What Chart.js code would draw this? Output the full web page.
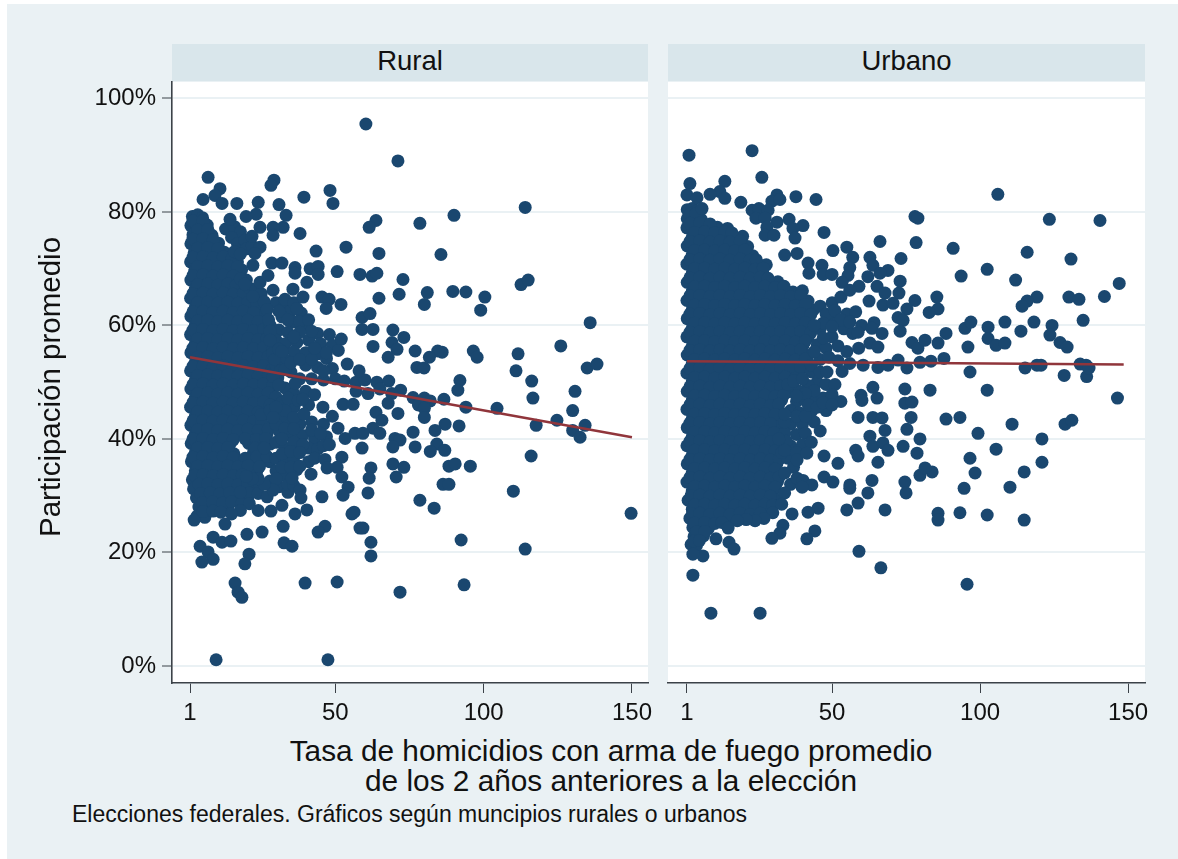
<!DOCTYPE html>
<html><head><meta charset="utf-8">
<script src="https://cdn.jsdelivr.net/npm/chart.js@4"></script>
<style>
html,body{margin:0;padding:0;background:#fff;width:1178px;height:859px;overflow:hidden;font-family:"Liberation Sans",Arial,sans-serif;color:#111}
#bg{position:absolute;left:7px;top:4px;width:1171px;height:855px;background:#eaf1f4}
canvas{position:absolute}
.strip{position:absolute;top:44px;height:37px;background:#d9e6eb;text-align:center;font-size:27.5px;line-height:34px}
.t{position:absolute;white-space:nowrap;text-align:center}
</style></head><body>
<div id="bg"></div>
<div class="strip" style="left:172px;width:476px">Rural</div>
<div class="strip" style="left:668px;width:477px">Urbano</div>
<canvas id="c1" style="left:0;top:0"></canvas>
<canvas id="c2" style="left:650px;top:0"></canvas>
<div class="t" style="left:-100px;top:372px;width:300px;font-size:29.5px;line-height:30px;transform:rotate(-90deg)">Participación promedio</div>
<div class="t" style="left:160px;top:736px;width:902px;font-size:29.8px;line-height:30px">Tasa de homicidios con arma de fuego promedio<br>de los 2 años anteriores a la elección</div>
<div class="t" style="left:72px;top:802px;font-size:23px;line-height:24px">Elecciones federales. Gráficos según muncipios rurales o urbanos</div>
<script>
const panelTitles = ["Rural","Urbano"];
const xTickValues = [1,50,100,150];
const yTickValues = [0,20,40,60,80,100];
const ruralTrendX = [1,150];
const ruralTrendY = [54.4,40.3];
const urbanTrendX = [1,148.5];
const urbanTrendY = [53.7,53.1];

const ruralSparse = [[7.1,86.1],[11.1,84.1],[9.4,82.9],[5.4,82.2],[11.8,81.5],[16.8,81.5],[24,81.7],[31,81.3],[29.3,85.6],[28.3,84.7],[39.4,82.6],[48.2,83.8],[49.2,81.5],[71.1,89],[60.3,95.5],[33.4,79.4],[23.3,79.6],[19.9,79.2],[14.5,78.7],[24.6,77.3],[32.4,77.3],[29,77.3],[29,75.9],[38.1,76.2],[21.9,75.7],[24.6,73.8],[22.9,72.7],[43.5,73.1],[53.6,73.8],[63.7,78.5],[61.4,77.3],[64.7,72.7],[78.5,78],[22.2,70.6],[28.6,71],[32,71],[36.4,70.2],[36.4,69.2],[41.5,70],[44.2,70.4],[44.2,69],[50.6,69.5],[58.3,69],[62.4,68.7],[64,69.2],[72.8,68.1],[71.5,65.5],[64.7,64.8],[19.5,67.3],[24.6,67.6],[27.3,68.8],[40.4,67.6],[35.7,66.4],[29,66.2],[22.2,65.1],[39.1,65],[45.5,65],[47.9,64.6],[46.9,63],[51.9,63.7],[59,61.4],[61.7,62.1],[59,59.3],[62.7,59.3],[69.4,59.2],[73.1,57.9],[69.1,57],[70.8,55.8],[67.8,54.4],[62.7,56.3],[76.9,55.5],[77.5,52.6],[29,43.8],[39.4,44.4],[45.8,45.6],[52.6,46.1],[56,46.1],[63.7,44.7],[65.7,43.3],[62.7,41.9],[65,41],[71.1,44.5],[67.8,46.3],[76.2,41.2],[50.9,41.9],[53.3,40.1],[56.6,41],[59.3,41],[59,38.4],[70.1,40.1],[71.8,39.8],[69.4,38.6],[76.9,38.6],[46.5,36.4],[52.2,36.8],[47.2,34.9],[50.6,35],[52.2,33.3],[54.3,31.5],[52.6,30.1],[62,34.9],[61.4,33.1],[61,30.5],[69.4,35.6],[73.1,35],[70.5,33.3],[41.8,33.8],[35.4,33.1],[38.1,31],[38.4,29.6],[32,28.3],[28.3,27.3],[45.5,29.8],[40.4,27.5],[36.4,26.8],[55.6,26.8],[56.3,27.1],[32.4,24.6],[46.5,24.6],[44.2,23.6],[58.3,24.3],[59.3,24.3],[62,21.8],[62,19.4],[32.7,21.7],[35.4,21.1],[25.3,23.6],[20.2,23.2],[20.9,19.7],[19.5,18],[12.8,25],[8.8,22.7],[11.8,21.8],[14.8,22],[4.4,21.1],[7.1,20.1],[8.8,18.8],[5,18.3],[16.2,14.6],[17.2,13],[18.5,12.1],[39.8,14.6],[50.6,14.8],[71.8,13],[9.8,1.1],[47.5,1.1],[85.6,72.5],[90,79.4],[114,80.8],[81,65.8],[80,63.7],[89.6,66],[94,65.9],[100.4,65],[99,62.7],[112.6,67.2],[115,68],[135.9,60.5],[126,56.4],[111.6,55],[116.2,50.2],[110.9,52],[96.5,55.5],[97.8,54.4],[86,55.3],[84.5,55.5],[81.7,54.4],[79.9,52.5],[92,50.3],[91.3,48.6],[76.2,47.3],[80,47.2],[82,46.7],[86.6,47],[78,46],[80,45.4],[94,45.6],[104.5,45.4],[116.6,47.2],[130.8,48.4],[117.7,42.4],[130,45],[124.7,43.3],[130,41.5],[134.2,42.4],[132.5,40.3],[134.9,52.5],[138.2,53.2],[87,42.6],[91.7,42.3],[80,43.8],[83.6,41.5],[84.2,39.1],[82,37.8],[86.9,38],[88.3,35.2],[90.4,35.6],[95.5,35.2],[86.3,32],[88.3,32],[83.3,27.8],[78.5,29.2],[92.4,22.2],[93.4,14.3],[110,30.8],[116,37],[114,20.6],[149.7,26.9]];

const ruralMid = [[30,64],[33,63.6],[35,62.6],[38.5,62.2],[32,61.5],[36,60.6],[40,60.2],[28,60],[31,59.2],[34,58.8],[44,58.6],[48,58.4],[30,57.4],[33,56.8],[37,57],[41,57.4],[45,56.8],[49,56.5],[52,57.6],[51,55.6],[36,55.4],[40,55.2],[44,55],[47,54.2],[54,53.2],[49,52.4],[44,52.6],[40,53],[33,54],[30,53],[35,51.8],[38,50.6],[42,50.6],[46,50.4],[50,50.6],[53,50.2],[57,50],[60,50.4],[64,50],[68,50.2],[58,52],[72,48.6],[69,48],[65,48.8],[61,48],[57,48.4],[33,49],[36,48],[40,48.4],[43,47.8],[30,47.4],[28,46],[32,46.4],[36,45.6],[41,46],[34,43.2],[38,42.6],[42,43],[46,42.6],[49,44],[31,41.4],[35,40.8],[39,40.6],[43,40],[47,40.4],[30,39.4],[33,38.4],[37,39],[41,38.4],[30,36.6],[33,36],[36,36.8],[30,34.4],[33,33.6],[37,34.6],[28,32.6],[31,31.6],[34,30.6],[24,30.4],[27,29.8],[21,28.6],[24,27.4],[18,27.4],[15,26.8]];

const ruralExtra = [[13,77],[16,77.4],[18,76.5],[15,75.5],[17,74.4],[19.5,75],[20,73.5],[22,74],[16,73],[18,72.6],[20,68],[21,66.6],[18,68.2],[23,66.4],[25,65.6],[26,64.2],[27,62.8],[27.5,61],[28,59],[28,57.4],[28.8,55],[29.5,54],[31,55.8],[31.5,52],[29,51],[31,49.5],[27.5,44.4],[25,44.3],[31.6,44],[28,45],[33,45],[30,45.6],[26,38.4],[33,52.2],[36.5,49.8],[34,47.2],[37.5,46.8],[39,47],[36,43.8],[30,42.6],[33,41.8],[36,41.8],[32,40],[36,39.4],[39,39],[32,37.4],[35,37.8],[38,37.6],[32,35],[35,35],[30,33],[34,32],[36,31.8],[42,41.6],[45,41],[44,38.2],[46,38.8],[48,39],[41,36],[43,36.6],[38,35.2],[29,31],[26,32],[24,33],[22,33],[20,33.4],[18,30.6],[33,64.6],[36,64],[37,63],[31,62.5],[34,61],[38,60.6],[41,61],[42,59],[38,58.8],[36,58],[32,55.4],[35,53.4],[38,54],[42,54],[46,52],[43,56],[47,55.2]];

const ruralDense = [[1.8,79.2],[3.6,79.5],[5.2,79],[1.3,77.6],[3,77.8],[4.7,77.4],[6.8,77.7],[2,76],[5,76.2],[8.4,75.9],[1.3,74.4],[3.9,74.6],[7,74.3],[10.6,74.5],[2.4,72.8],[5.6,73],[9,72.7],[12.6,72.9],[1.2,71.2],[4,71.4],[7.4,71],[10.8,71.3],[14.2,71],[17,71.2],[2.6,69.6],[6,69.8],[9.4,69.5],[12.8,69.7],[16.2,69.5],[18.4,69.8],[1.3,68],[4.4,68.2],[7.8,67.9],[11.2,68.1],[14.6,67.9],[2.8,66.4],[6.2,66.6],[9.6,66.3],[13,66.5],[16.4,66.3],[18.6,66.6],[1.2,64.8],[4.5,65],[7.9,64.7],[11.3,64.9],[14.7,64.7],[18.1,64.9],[21.5,64.7],[24,64.8],[2.8,63.2],[6.2,63.4],[9.6,63.1],[13,63.3],[16.4,63.1],[19.8,63.3],[23.2,63.1],[1.3,61.6],[4.5,61.8],[7.9,61.5],[11.3,61.7],[14.7,61.5],[18.1,61.7],[21.5,61.5],[24.9,61.7],[2.8,60],[6.2,60.2],[9.6,59.9],[13,60.1],[16.4,59.9],[19.8,60.1],[23.2,59.9],[25.4,60.1],[1.2,58.4],[4.5,58.6],[7.9,58.3],[11.3,58.5],[14.7,58.3],[18.1,58.5],[21.5,58.3],[24.9,58.5],[2.8,56.8],[6.2,57],[9.6,56.7],[13,56.9],[16.4,56.7],[19.8,56.9],[23.2,56.7],[25.6,56.9],[1.3,55.2],[4.5,55.4],[7.9,55.1],[11.3,55.3],[14.7,55.1],[18.1,55.3],[21.5,55.1],[24.9,55.3],[2.8,53.6],[6.2,53.8],[9.6,53.5],[13,53.7],[16.4,53.5],[19.8,53.7],[23.2,53.5],[26.2,53.7],[1.2,52],[4.5,52.2],[7.9,51.9],[11.3,52.1],[14.7,51.9],[18.1,52.1],[21.5,51.9],[24.9,52.1],[27.4,51.9],[2.8,50.4],[6.2,50.6],[9.6,50.3],[13,50.5],[16.4,50.3],[19.8,50.5],[23.2,50.3],[26.6,50.5],[1.3,48.8],[4.5,49],[7.9,48.7],[11.3,48.9],[14.7,48.7],[18.1,48.9],[21.5,48.7],[24.9,48.9],[28,48.7],[2.8,47.2],[6.2,47.4],[9.6,47.1],[13,47.3],[16.4,47.1],[19.8,47.3],[23.2,47.1],[26.6,47.3],[1.2,45.6],[4.5,45.8],[7.9,45.5],[11.3,45.7],[14.7,45.5],[18.1,45.7],[21.5,45.5],[24.9,45.7],[2.8,44],[6.2,44.2],[9.6,43.9],[13,44.1],[16.4,43.9],[19.8,44.1],[23.2,43.9],[1.3,42.4],[4.5,42.6],[7.9,42.3],[11.3,42.5],[14.7,42.3],[18.1,42.5],[21.5,42.3],[24.9,42.5],[28,42.2],[2.8,40.8],[6.2,41],[9.6,40.7],[13,40.9],[16.4,40.7],[19.8,40.9],[23.8,40.7],[27,40.9],[1.4,39.2],[4.5,39.4],[7.9,39.1],[11.3,39.3],[14.7,39.3],[20.8,39.2],[24.9,39.3],[28,39.1],[2.8,37.6],[6.2,37.8],[9.6,37.5],[13,37.7],[15.8,37.4],[22.4,37.6],[26,37.6],[1.5,36],[4.5,36.2],[7.9,35.9],[11.3,36.1],[14.7,35.9],[18.1,36.1],[21.5,35.9],[25.2,36.1],[27.8,36],[2.8,34.4],[6.2,34.6],[9.6,34.3],[13,34.5],[16.4,34.3],[19.8,34.5],[23.5,34.3],[1.8,32.8],[4.5,33],[7.9,32.7],[11.3,32.9],[14.7,32.7],[17.8,32.9],[2.2,31.2],[6.2,31.4],[9.6,31.1],[13,31.3],[16.4,31.1],[19.8,31.3],[23,31.4],[3.2,29.6],[6.4,29.8],[9.8,29.5],[13.2,29.7],[16.6,29.6],[20.4,29.4],[4,28],[7.4,28.2],[10.8,27.9],[13,28],[3.4,26.4],[6,26.2],[2.4,25.7]];

const ruralFill = [[2,78.4],[5.4,78.5],[3.6,76.8],[7,76.9],[2,75.2],[5.4,75.3],[8.8,75.1],[3.6,73.6],[7,73.7],[10.4,73.5],[2,72],[5.4,72.1],[8.8,71.9],[12.2,72.1],[15.2,71.8],[3.6,70.4],[7,70.5],[10.4,70.3],[13.8,70.5],[17,70.3],[2,68.8],[5.4,68.9],[8.8,68.7],[12.2,68.9],[15.6,68.7],[3.6,67.2],[7,67.3],[10.4,67.1],[13.8,67.3],[16.6,67.1],[2,65.6],[5.4,65.7],[8.8,65.5],[12.2,65.7],[15.6,65.5],[19,65.7],[3.6,64],[7,64.1],[10.4,63.9],[13.8,64.1],[17.2,63.9],[20.6,64.1],[23.6,63.9],[2,62.4],[5.4,62.5],[8.8,62.3],[12.2,62.5],[15.6,62.3],[19,62.5],[22.4,62.3],[3.6,60.8],[7,60.9],[10.4,60.7],[13.8,60.9],[17.2,60.7],[20.6,60.9],[24,60.7],[2,59.2],[5.4,59.3],[8.8,59.1],[12.2,59.3],[15.6,59.1],[19,59.3],[22.4,59.1],[25.8,59.3],[3.6,57.6],[7,57.7],[10.4,57.5],[13.8,57.7],[17.2,57.5],[20.6,57.7],[24,57.5],[27,57.7],[2,56],[5.4,56.1],[8.8,55.9],[12.2,56.1],[15.6,55.9],[19,56.1],[22.4,55.9],[25.8,56.1],[29,55.8],[3.6,54.4],[7,54.5],[10.4,54.3],[13.8,54.5],[17.2,54.3],[20.6,54.5],[24,54.3],[27.4,54.5],[2,52.8],[5.4,52.9],[8.8,52.7],[12.2,52.9],[15.6,52.7],[19,52.9],[22.4,52.7],[25.8,52.9],[28.6,52.2],[3.6,51.2],[7,51.3],[10.4,51.1],[13.8,51.3],[17.2,51.1],[20.6,51.3],[24,51.1],[27.4,51.3],[30.6,50.8],[2,49.6],[5.4,49.7],[8.8,49.5],[12.2,49.7],[15.6,49.5],[19,49.7],[22.4,49.5],[25.8,49.7],[29,49.6],[3.6,48],[7,48.1],[10.4,47.9],[13.8,48.1],[17.2,47.9],[20.6,48.1],[24,47.9],[27.4,48.1],[2,46.4],[5.4,46.5],[8.8,46.3],[12.2,46.5],[15.6,46.3],[19,46.5],[22.4,46.3],[25.8,46.5],[3.6,44.8],[7,44.9],[10.4,44.7],[13.8,44.9],[17.2,44.7],[20.6,44.9],[24,44.7],[2,43.2],[5.4,43.3],[8.8,43.1],[12.2,43.3],[15.6,43.1],[19,43.3],[22.4,43.1],[25.2,43],[3.6,41.6],[7,41.7],[10.4,41.5],[13.8,41.7],[17.2,41.5],[20.6,41.7],[24,41.5],[27.4,41.7],[2,40],[5.4,40.1],[8.8,39.9],[12.2,40.1],[15.6,39.9],[19.6,40],[23.4,39.9],[26.6,40.1],[3.6,38.4],[7,38.5],[10.4,38.3],[13.8,38.5],[23,38.4],[2,36.8],[5.4,36.9],[8.8,36.7],[12.2,36.9],[15.6,36.7],[19.6,36.6],[23.6,36.9],[27,36.9],[3.6,35.2],[7,35.3],[10.4,35.1],[13.8,35.3],[17.2,35.1],[20.6,35.3],[24.4,35.1],[2.6,33.6],[5.4,33.7],[8.8,33.5],[12.2,33.7],[15.6,33.5],[18.6,33.7],[4,32],[7,32.1],[10.4,31.9],[13.8,32.1],[17.2,31.9],[20.4,32.1],[4.6,30.4],[7.8,30.5],[11,30.3],[14.4,30.5],[21,30.5],[5.2,28.8],[8.6,28.9],[12,28.7],[15,28.9],[18.4,28.6],[5.4,27.2],[8.8,27.3],[11.4,27.1]];

const urbanSparse = [[1.7,90],[23,90.8],[26.3,86.1],[2,85],[13.8,85.4],[12.1,83.6],[13.8,82.4],[8.8,83.1],[1,83],[4.4,82.5],[19.2,81.7],[31.4,83],[29.7,81.9],[32.4,82.2],[37.8,82.7],[44.6,82.2],[6.1,80.6],[23,80.3],[25.3,80.6],[28.4,80.3],[24.3,78.9],[27.4,78.9],[31.4,78.2],[35.5,78.7],[40.2,77.6],[36.8,77.1],[28,77.3],[27.4,75.9],[30.4,75.9],[37.5,75.4],[47.3,76.4],[78,79.2],[79,78.9],[66.2,74.8],[78.4,74.6],[50.3,73.2],[55,73.8],[57,72],[34,72.4],[38.2,72.7],[73.3,71.8],[62.8,72],[63.8,70.6],[41.9,71],[42.2,69.2],[46.6,70.6],[47,69],[50,69],[56,70.2],[55.4,68.8],[53.4,67.6],[68.9,69.7],[66.2,69.2],[62.1,68.6],[73,67.8],[59.1,66.9],[65.2,66.9],[56,66.2],[72.6,65.7],[67.9,65.7],[78,64.4],[62.5,64.3],[67.2,63.6],[70.6,63.9],[75.3,62.9],[72.3,61.4],[74,60.9],[64.2,60.5],[63.5,59.5],[66.9,58.6],[73,59],[77,57],[79,56],[58.8,58.8],[62.8,56.9],[65.5,56.2],[72.3,53.9],[75.3,52.5],[53.4,51.9],[48.3,51.8],[56,53.3],[60.5,53],[65.5,52.6],[68.9,53],[74.6,48.8],[74.6,46.3],[77,46.5],[76.7,43.8],[75.3,41.7],[74,38.7],[78.7,37.5],[79.7,40],[79.7,33.6],[74.6,32.4],[75,30.5],[67.9,27.5],[58.8,28.7],[55,27.5],[62.1,30.5],[63.5,32.7],[56,31.9],[56,31.3],[65.5,35.9],[58,38],[58.8,37],[62.8,40.5],[63.8,38.7],[67.2,39.3],[68.9,38],[67.9,41.5],[63.8,43.8],[66.9,43.7],[58.8,43.8],[59.8,47.7],[60.1,46.8],[65.2,47.2],[63.8,49.1],[47.3,37],[52,35.7],[38.2,36.3],[41.5,37.5],[47.3,33.3],[50.3,32.4],[38.2,33.1],[40.2,32.7],[43.2,31.9],[39.9,31.5],[45.3,27.8],[41.9,27.1],[36.5,26.8],[33.4,24.8],[32.4,23.4],[29.7,22.5],[44.2,23.8],[41.5,22.4],[14.9,24.3],[15.2,21.8],[16.9,20.6],[10.8,22.4],[6.4,19.4],[3,19.7],[3,16],[9.1,9.3],[25.7,9.3],[59.1,20.2],[66.5,17.3],[106,83.1],[123.4,78.7],[140.5,78.5],[90.9,73.6],[102.4,69.9],[93.6,68.7],[115.9,72.9],[130.7,71.7],[112,68],[147,67.4],[142,65.1],[130,65],[133.4,64.6],[119.2,65],[115.9,64.3],[114.2,63.4],[134.8,60.9],[124.3,60],[123.6,58.3],[108.4,60.6],[118.2,60.6],[113.8,59],[102.7,59.7],[102.7,57.7],[94.9,59.5],[96.9,60.6],[95.9,56.2],[105.4,56.5],[108.4,56.9],[127,57],[129.4,56.2],[133.8,53.2],[135.8,53],[119.2,53],[120.6,53],[115.2,52.5],[136,51],[128.4,51.2],[136.8,52.5],[96.6,51.8],[146.4,47.2],[102.4,48.6],[110.8,42.6],[128.7,42.6],[131,43.3],[120.9,40],[99.3,41],[105.4,38.2],[88.5,43.5],[93.2,43.8],[120.9,35.9],[114.9,34.2],[98.3,34],[96.6,36.6],[94.6,31.3],[110.1,31.5],[114.9,25.7],[102.4,26.6],[93.2,27],[85.8,26.9],[85.8,25.7],[95.6,14.4],[83.8,34.2],[81.4,34.9],[83.1,48.6],[87.8,54.2],[79.7,53.5],[83.4,53.7],[85.8,62.9],[85.4,65],[82.8,62.3],[88.5,58.6],[85.8,56.9],[81.4,57.4]];

const urbanMid = [[46,63.4],[50,64],[53,65],[49,61],[52,60.6],[55,62],[58,62.4],[46,59.4],[50,58],[54,59.4],[57,58.6],[60,60],[45,56.6],[48,56],[52,56.4],[55,55.4],[59,56],[46,54],[49,54.4],[52,53.8],[43,51.8],[45,50],[48,49.6],[51,49.6],[42,49.4],[39,48.4],[38,46.6],[41,46.8],[44,47.4],[36,45],[39,44.6],[43,44.8],[47,47.2],[50,47.8],[53,46.6],[36,42.6],[40,42.6],[44,43],[48,45],[34,41],[38,40.8],[41,41],[46,41.4],[36,38.8],[40,39],[43,39.4],[35,36.6],[37,35],[34,34],[36,32],[34,30.5],[33,28.5],[30,27],[27,26],[24,25.6],[21,25.8],[18,25.6]];

const urbanExtra = [[48,62],[51,62.6],[47,60.4],[44,60],[53,61],[56,60.6],[50,59.8],[44,55.4],[47,57.8],[43,53],[46,51.8],[44,48.5],[41,48],[38,44],[41,44],[34,43],[34.6,39.6],[33,37.6],[35,49.6],[37,50.2],[40,50.6],[42,46],[45,45.6],[47,46.4],[50,46],[38,47.6],[34,44.4],[32,40],[34,38],[38,37.6]];

const urbanDense = [[1.1,80.4],[2.8,80.6],[4.5,80.2],[1.1,78.8],[3.3,79],[5.8,78.7],[1,77.2],[4.5,77.4],[7.9,77.1],[11.3,77.3],[14.7,77.1],[2.8,75.6],[6.2,75.8],[9.6,75.5],[13,75.7],[16.4,75.5],[19.8,75.7],[1.1,74],[4.5,74.2],[7.9,73.9],[11.3,74.1],[14.7,73.9],[18.1,74.1],[21.5,73.9],[2.8,72.4],[6.2,72.6],[9.6,72.3],[13,72.5],[16.4,72.3],[19.8,72.5],[23.2,72.3],[1,70.8],[4.5,71],[7.9,70.7],[11.3,70.9],[14.7,70.7],[18.1,70.9],[21.5,70.7],[24.9,70.9],[27.8,70.7],[2.8,69.2],[6.2,69.4],[9.6,69.1],[13,69.3],[16.4,69.1],[19.8,69.3],[23.2,69.1],[26.6,69.3],[1.1,67.6],[4.5,67.8],[7.9,67.5],[11.3,67.7],[14.7,67.5],[18.1,67.7],[21.5,67.5],[24.9,67.7],[28.3,67.5],[31.7,67.7],[2.8,66],[6.2,66.2],[9.6,65.9],[13,66.1],[16.4,65.9],[19.8,66.1],[23.2,65.9],[26.6,66.1],[30,65.9],[33.4,66.1],[36.8,65.9],[40,66.1],[1,64.4],[4.5,64.6],[7.9,64.3],[11.3,64.5],[14.7,64.3],[18.1,64.5],[21.5,64.3],[24.9,64.5],[28.3,64.3],[31.7,64.5],[35.1,64.3],[38.5,64.5],[41.9,64.3],[2.8,62.8],[6.2,63],[9.6,62.7],[13,62.9],[16.4,62.7],[19.8,62.9],[23.2,62.7],[26.6,62.9],[30,62.7],[33.4,62.9],[36.8,62.7],[40.2,62.9],[43.6,62.7],[1.1,61.2],[4.5,61.4],[7.9,61.1],[11.3,61.3],[14.7,61.1],[18.1,61.3],[21.5,61.1],[24.9,61.3],[28.3,61.1],[31.7,61.3],[35.1,61.1],[38.5,61.3],[41.9,61.1],[2.8,59.6],[6.2,59.8],[9.6,59.5],[13,59.7],[16.4,59.5],[19.8,59.7],[23.2,59.5],[26.6,59.7],[30,59.5],[33.4,59.7],[36.8,59.5],[40.2,59.7],[43.4,59.5],[1,58],[4.5,58.2],[7.9,57.9],[11.3,58.1],[14.7,57.9],[18.1,58.1],[21.5,57.9],[24.9,58.1],[28.3,57.9],[31.7,58.1],[35.1,57.9],[38.5,58.1],[41.9,57.9],[2.8,56.4],[6.2,56.6],[9.6,56.3],[13,56.5],[16.4,56.3],[19.8,56.5],[23.2,56.3],[26.6,56.5],[30,56.3],[33.4,56.5],[36.8,56.3],[40.2,56.5],[1.1,54.8],[4.5,55],[7.9,54.7],[11.3,54.9],[14.7,54.7],[18.1,54.9],[21.5,54.7],[24.9,54.9],[28.3,54.7],[31.7,54.9],[35.1,54.7],[38.5,54.9],[41.9,54.7],[2.8,53.2],[6.2,53.4],[9.6,53.1],[13,53.3],[16.4,53.1],[19.8,53.3],[23.2,53.1],[26.6,53.3],[30,53.1],[33.4,53.3],[36.8,53.1],[40.2,53.3],[1,51.6],[4.5,51.8],[7.9,51.5],[11.3,51.7],[14.7,51.5],[18.1,51.7],[21.5,51.5],[24.9,51.7],[28.3,51.5],[31.7,51.7],[35.1,51.5],[38.5,51.7],[2.8,50],[6.2,50.2],[9.6,49.9],[13,50.1],[16.4,49.9],[19.8,50.1],[23.2,49.9],[26.6,50.1],[30,49.9],[33.4,50.1],[36.8,49.9],[1.1,48.4],[4.5,48.6],[7.9,48.3],[11.3,48.5],[14.7,48.3],[18.1,48.5],[21.5,48.3],[24.9,48.5],[28.3,48.3],[31.7,48.5],[35.1,48.3],[2.8,46.8],[6.2,47],[9.6,46.7],[13,46.9],[16.4,46.7],[19.8,46.9],[23.2,46.7],[26.6,46.9],[30,46.7],[33,46.9],[1,45.2],[4.5,45.4],[7.9,45.1],[11.3,45.3],[14.7,45.1],[18.1,45.3],[21.5,45.1],[24.9,45.3],[28.3,45.1],[31.7,45.3],[2.8,43.6],[6.2,43.8],[9.6,43.5],[13,43.7],[16.4,43.5],[19.8,43.7],[23.2,43.5],[26.6,43.7],[30,43.5],[1.1,42],[4.5,42.2],[7.9,41.9],[11.3,42.1],[14.7,41.9],[18.1,42.1],[21.5,41.9],[24.9,42.1],[28.3,41.9],[31.2,42.1],[2.8,40.4],[6.2,40.6],[9.6,40.3],[13,40.5],[16.4,40.3],[19.8,40.5],[23.2,40.3],[26.6,40.5],[30,40.3],[1,38.8],[4.5,39],[7.9,38.7],[11.3,38.9],[14.7,38.7],[18.1,38.9],[21.5,38.7],[24.9,38.9],[28.3,38.7],[31.4,38.9],[2.8,37.2],[6.2,37.4],[9.6,37.1],[13,37.3],[16.4,37.1],[19.8,37.3],[23.2,37.1],[26.6,37.3],[30,37.1],[33.2,37.3],[1.1,35.6],[4.5,35.8],[7.9,35.5],[11.3,35.7],[14.7,35.5],[18.1,35.7],[21.5,35.5],[24.9,35.7],[28.3,35.5],[31.4,35.7],[2.8,34],[6.2,34.2],[9.6,33.9],[13,34.1],[16.4,33.9],[19.8,34.1],[23.2,33.9],[26.6,34.1],[30,33.9],[1,32.4],[4.5,32.6],[7.9,32.3],[11.3,32.5],[14.7,32.3],[18.1,32.5],[21.5,32.3],[24.9,32.5],[28.3,32.3],[31.6,32.5],[2.8,30.8],[6.2,31],[9.6,30.7],[13,30.9],[16.4,30.7],[19.8,30.9],[23.2,30.7],[26.6,30.9],[30,30.7],[1.4,29.2],[4.5,29.4],[7.9,29.1],[11.3,29.3],[14.7,29.1],[18.1,29.3],[21.5,29.1],[24.9,29.3],[28.3,29.1],[31,29.3],[2.8,27.6],[6.2,27.8],[9.6,27.5],[13,27.7],[16.4,27.5],[19.8,27.7],[23.2,27.5],[26.6,27.7],[2,26],[5,26.2],[7.9,25.9],[11.3,26.1],[14.7,25.9],[3,24.4],[6.2,24.6],[8.2,24.2],[3.4,22.8],[6.6,22.9],[2.4,21.4],[4.2,21.2]];

const urbanFill = [[2,79.6],[4,79.7],[2,78],[5.4,78.1],[8.8,77.9],[3.6,76.4],[7,76.5],[10.4,76.3],[13.8,76.5],[16.2,76.3],[2,74.8],[5.4,74.9],[8.8,74.7],[12.2,74.9],[15.6,74.7],[19,74.9],[3.6,73.2],[7,73.3],[10.4,73.1],[13.8,73.3],[17.2,73.1],[20.6,73.3],[2,71.6],[5.4,71.7],[8.8,71.5],[12.2,71.7],[15.6,71.5],[19,71.7],[22.4,71.5],[24.4,71.6],[3.6,70],[7,70.1],[10.4,69.9],[13.8,70.1],[17.2,69.9],[20.6,70.1],[24,69.9],[26.8,70.1],[2,68.4],[5.4,68.5],[8.8,68.3],[12.2,68.5],[15.6,68.3],[19,68.5],[22.4,68.3],[25.8,68.5],[28.4,68.3],[3.6,66.8],[7,66.9],[10.4,66.7],[13.8,66.9],[17.2,66.7],[20.6,66.9],[24,66.7],[27.4,66.9],[30.8,66.7],[33.8,66.9],[2,65.2],[5.4,65.3],[8.8,65.1],[12.2,65.3],[15.6,65.1],[19,65.3],[22.4,65.1],[25.8,65.3],[29.2,65.1],[32.6,65.3],[36,65.1],[39.4,65.3],[3.6,63.6],[7,63.7],[10.4,63.5],[13.8,63.7],[17.2,63.5],[20.6,63.7],[24,63.5],[27.4,63.7],[30.8,63.5],[34.2,63.7],[37.6,63.5],[41,63.7],[2,62],[5.4,62.1],[8.8,61.9],[12.2,62.1],[15.6,61.9],[19,62.1],[22.4,61.9],[25.8,62.1],[29.2,61.9],[32.6,62.1],[36,61.9],[39.4,62.1],[42.8,61.9],[3.6,60.4],[7,60.5],[10.4,60.3],[13.8,60.5],[17.2,60.3],[20.6,60.5],[24,60.3],[27.4,60.5],[30.8,60.3],[34.2,60.5],[37.6,60.3],[41,60.5],[2,58.8],[5.4,58.9],[8.8,58.7],[12.2,58.9],[15.6,58.7],[19,58.9],[22.4,58.7],[25.8,58.9],[29.2,58.7],[32.6,58.9],[36,58.7],[39.4,58.9],[42.8,58.7],[3.6,57.2],[7,57.3],[10.4,57.1],[13.8,57.3],[17.2,57.1],[20.6,57.3],[24,57.1],[27.4,57.3],[30.8,57.1],[34.2,57.3],[37.6,57.1],[41,57.3],[2,55.6],[5.4,55.7],[8.8,55.5],[12.2,55.7],[15.6,55.5],[19,55.7],[22.4,55.5],[25.8,55.7],[29.2,55.5],[32.6,55.7],[36,55.5],[39.4,55.7],[3.6,54],[7,54.1],[10.4,53.9],[13.8,54.1],[17.2,53.9],[20.6,54.1],[24,53.9],[27.4,54.1],[30.8,53.9],[34.2,54.1],[37.6,53.9],[41,54.1],[2,52.4],[5.4,52.5],[8.8,52.3],[12.2,52.5],[15.6,52.3],[19,52.5],[22.4,52.3],[25.8,52.5],[29.2,52.3],[32.6,52.5],[36,52.3],[39.4,52.5],[3.6,50.8],[7,50.9],[10.4,50.7],[13.8,50.9],[17.2,50.7],[20.6,50.9],[24,50.7],[27.4,50.9],[30.8,50.7],[34.2,50.9],[37.6,50.7],[2,49.2],[5.4,49.3],[8.8,49.1],[12.2,49.3],[15.6,49.1],[19,49.3],[22.4,49.1],[25.8,49.3],[29.2,49.1],[32.6,49.3],[35.6,49.1],[3.6,47.6],[7,47.7],[10.4,47.5],[13.8,47.7],[17.2,47.5],[20.6,47.7],[24,47.5],[27.4,47.7],[30.8,47.5],[33.6,47.7],[2,46],[5.4,46.1],[8.8,45.9],[12.2,46.1],[15.6,45.9],[19,46.1],[22.4,45.9],[25.8,46.1],[29.2,45.9],[32,46.1],[3.6,44.4],[7,44.5],[10.4,44.3],[13.8,44.5],[17.2,44.3],[20.6,44.5],[24,44.3],[27.4,44.5],[30.8,44.3],[2,42.8],[5.4,42.9],[8.8,42.7],[12.2,42.9],[15.6,42.7],[19,42.9],[22.4,42.7],[25.8,42.9],[29.2,42.7],[3.6,41.2],[7,41.3],[10.4,41.1],[13.8,41.3],[17.2,41.1],[20.6,41.3],[24,41.1],[27.4,41.3],[30.4,41.1],[2,39.6],[5.4,39.7],[8.8,39.5],[12.2,39.7],[15.6,39.5],[19,39.7],[22.4,39.5],[25.8,39.7],[29.2,39.5],[3.6,38],[7,38.1],[10.4,37.9],[13.8,38.1],[17.2,37.9],[20.6,38.1],[24,37.9],[27.4,38.1],[30.8,37.9],[2,36.4],[5.4,36.5],[8.8,36.3],[12.2,36.5],[15.6,36.3],[19,36.5],[22.4,36.3],[25.8,36.5],[29.2,36.3],[32.2,36.5],[3.6,34.8],[7,34.9],[10.4,34.7],[13.8,34.9],[17.2,34.7],[20.6,34.9],[24,34.7],[27.4,34.9],[30.8,34.7],[2,33.2],[5.4,33.3],[8.8,33.1],[12.2,33.3],[15.6,33.1],[19,33.3],[22.4,33.1],[25.8,33.3],[29.2,33.1],[32.2,33.3],[3.6,31.6],[7,31.7],[10.4,31.5],[13.8,31.7],[17.2,31.5],[20.6,31.7],[24,31.5],[27.4,31.7],[30.8,31.5],[2.4,30],[5.4,30.1],[8.8,29.9],[12.2,30.1],[15.6,29.9],[19,30.1],[22.4,29.9],[25.8,30.1],[29.2,29.9],[3.6,28.4],[7,28.5],[10.4,28.3],[13.8,28.5],[17.2,28.3],[20.6,28.5],[24,28.3],[27.4,28.5],[30,28.3],[2.8,26.8],[5.4,26.9],[8.8,26.7],[12.2,26.9],[15.6,26.7],[19,26.9],[22.4,26.7],[25.8,26.9],[3.6,25.2],[7,25.3],[10.4,25.1],[12.8,25.3],[4.2,23.6],[7,23.7],[3.4,22],[5.2,22.1]];

const fmt = a => a.map(p => ({x:p[0], y:p[1]}));
const zip = (xs,ys) => xs.map((x,i)=>({x, y:ys[i]}));
const axisColor = '#3b4248', gridColor = '#eaf1f4', navy = '#1a476f', maroon = '#90353b';
const tickFont = {family:'"Liberation Sans", Arial, sans-serif', size:24};

const whitePlot = {id:'whitePlot', beforeDraw(ch){const a=ch.chartArea,c=ch.ctx;c.save();c.fillStyle='#fff';c.fillRect(a.left,a.top,a.right-a.left,a.bottom-a.top);c.restore();}};

function build(id, w, leftW, rightPad, pts, tx, ty, xmin, xmax, showY){
  const cv = document.getElementById(id);
  cv.width = w; cv.height = 730;
  cv.style.width = w+'px'; cv.style.height = '730px';
  return new Chart(cv, {
    type:'scatter',
    plugins:[whitePlot],
    data:{datasets:[
      {label:'Tendencia', data:zip(tx,ty), showLine:true, borderColor:maroon, borderWidth:2.5, pointRadius:0, order:0},
      {label:'Municipios', data:fmt(pts), backgroundColor:navy, borderColor:navy, borderWidth:0, pointRadius:6.5, pointHoverRadius:6.5, order:1}
    ]},
    options:{
      responsive:false, animation:false, events:[],
      layout:{padding:{top:82,right:rightPad,left:0,bottom:0}},
      plugins:{legend:{display:false},title:{display:false},tooltip:{enabled:false}},
      scales:{
        x:{type:'linear',min:xmin,max:xmax,
          afterBuildTicks(s){s.ticks=xTickValues.map(v=>({value:v}));},
          afterFit(s){s.height=47;},
          grid:{display:true,drawOnChartArea:false,drawTicks:true,tickLength:10,tickColor:axisColor,tickWidth:1},
          border:{display:true,color:axisColor,width:1.6},
          ticks:{font:tickFont,color:'#111',maxRotation:0,autoSkip:false,padding:6,callback:v=>String(v)}},
        y:{type:'linear',min:-3,max:102.9,
          afterBuildTicks(s){s.ticks=yTickValues.map(v=>({value:v}));},
          afterFit(s){s.width=leftW;},
          grid:{display:true,color:gridColor,lineWidth:2,drawTicks:showY,tickLength:10,tickColor:axisColor,tickWidth:1},
          border:{display:showY,color:axisColor,width:1.6},
          ticks:{display:showY,font:tickFont,color:'#111',padding:6,autoSkip:false,callback:v=>v+'%'}}
      }
    }
  });
}
build('c1',670,172,22,[...ruralDense,...ruralFill,...ruralMid,...ruralExtra,...ruralSparse],ruralTrendX,ruralTrendY,-5.07,155.4,true);
build('c2',528,18,33,[...urbanDense,...urbanFill,...urbanMid,...urbanExtra,...urbanSparse],urbanTrendX,urbanTrendY,-5.4,155.7,false);
</script>
</body></html>
